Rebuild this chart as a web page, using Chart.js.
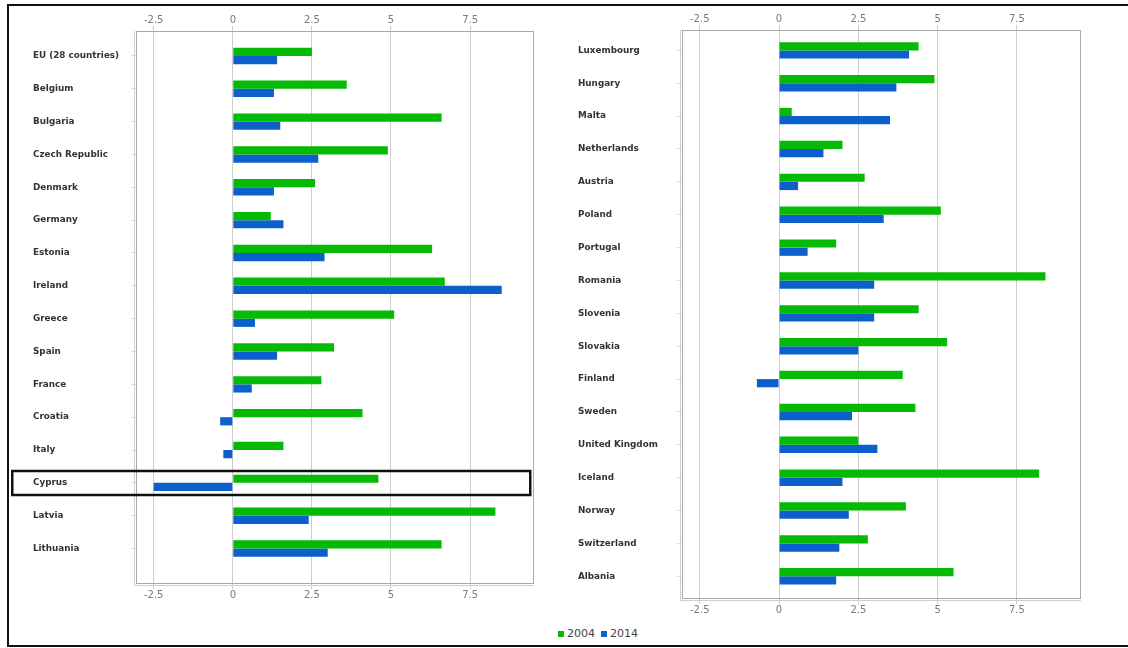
<!DOCTYPE html>
<html>
<head>
<meta charset="utf-8">
<script src="https://cdn.jsdelivr.net/npm/chart.js@4/dist/chart.umd.min.js"></script>
<style>
  html, body { margin: 0; padding: 0; background: #fff; width: 1128px; height: 648px; overflow: hidden; }
  #frame { position: absolute; left: 7px; top: 4px; width: 1130px; height: 643px; border: 2px solid #111; border-right: none; box-sizing: border-box; }
  .panel { position: absolute; }
  #leftPanel { left: 10px; top: 6px; width: 540px; height: 604px; }
  #rightPanel { left: 560px; top: 5px; width: 540px; height: 617px; }
  #legend { position: absolute; left: 558px; top: 627px; font: 11px "DejaVu Sans", sans-serif; color: #444; display: flex; align-items: center; white-space: nowrap; }
  .sw { display: inline-block; width: 6px; height: 6px; margin-right: 3px; }
  .item { display: flex; align-items: center; margin-right: 6px; }
</style>
</head>
<body>
<div id="frame"></div>
<div class="panel" id="leftPanel"><canvas id="leftChart"></canvas></div>
<div class="panel" id="rightPanel"><canvas id="rightChart"></canvas></div>
<div id="legend"></div>
<script>
// Growth rates, 2004 vs 2014
const seriesNames = ['2004', '2014'];
const seriesColors = ['#04ba04', '#0d60cc'];

const leftCountries = ['EU (28 countries)', 'Belgium', 'Bulgaria', 'Czech Republic', 'Denmark', 'Germany',
  'Estonia', 'Ireland', 'Greece', 'Spain', 'France', 'Croatia', 'Italy', 'Cyprus', 'Latvia', 'Lithuania'];
const left2004 = [2.5, 3.6, 6.6, 4.9, 2.6, 1.2, 6.3, 6.7, 5.1, 3.2, 2.8, 4.1, 1.6, 4.6, 8.3, 6.6];
const left2014 = [1.4, 1.3, 1.5, 2.7, 1.3, 1.6, 2.9, 8.5, 0.7, 1.4, 0.6, -0.4, -0.3, -2.5, 2.4, 3.0];

const rightCountries = ['Luxembourg', 'Hungary', 'Malta', 'Netherlands', 'Austria', 'Poland', 'Portugal',
  'Romania', 'Slovenia', 'Slovakia', 'Finland', 'Sweden', 'United Kingdom', 'Iceland', 'Norway',
  'Switzerland', 'Albania'];
const right2004 = [4.4, 4.9, 0.4, 2.0, 2.7, 5.1, 1.8, 8.4, 4.4, 5.3, 3.9, 4.3, 2.5, 8.2, 4.0, 2.8, 5.5];
const right2014 = [4.1, 3.7, 3.5, 1.4, 0.6, 3.3, 0.9, 3.0, 3.0, 2.5, -0.7, 2.3, 3.1, 2.0, 2.2, 1.9, 1.8];

const xTickValues = [-2.5, 0, 2.5, 5, 7.5];
const xTickLabels = ['-2.5', '0', '2.5', '5', '7.5'];

const highlightCountry = 'Cyprus';

// Gray plot frame around the chart area
const plotFrame = {
  id: 'plotFrame',
  afterDraw(chart) {
    const { ctx, chartArea: a } = chart;
    ctx.save();
    ctx.strokeStyle = '#a9a9a9';
    ctx.lineWidth = 1;
    ctx.strokeRect(Math.round(a.left) + 0.5, Math.round(a.top) + 0.5,
      Math.round(a.right - a.left) - 1, Math.round(a.bottom - a.top) - 1);
    ctx.strokeStyle = '#cfcfcf';
    ctx.beginPath();
    ctx.moveTo(Math.round(a.left) - 1.5, Math.round(a.top));
    ctx.lineTo(Math.round(a.left) - 1.5, Math.round(a.bottom) + 1.5);
    ctx.lineTo(Math.round(a.right), Math.round(a.bottom) + 1.5);
    ctx.stroke();
    ctx.restore();
  }
};

// Black outline around one country's row
const rowHighlight = {
  id: 'rowHighlight',
  afterDraw(chart, args, opts) {
    const idx = opts.categories.indexOf(opts.name);
    if (idx < 0) return;
    const y = chart.scales.y.getPixelForValue(idx);
    const { ctx } = chart;
    ctx.save();
    ctx.strokeStyle = '#111';
    ctx.lineWidth = 2.5;
    ctx.strokeRect(2.25, Math.round(y) - 12, chart.chartArea.right - 6, 24);
    ctx.restore();
  }
};

function xAxis(position, onArea, height) {
  return {
    type: 'linear',
    position: position,
    min: -3.06,
    max: 9.52,
    afterBuildTicks(s) { s.ticks = xTickValues.map(v => ({ value: v })); },
    ticks: {
      callback: (v, i) => xTickLabels[i],
      color: '#7a7a7a',
      font: { family: 'DejaVu Sans', size: 10 },
      padding: 0,
      autoSkip: false,
      maxRotation: 0
    },
    grid: { color: '#cdcdcd', tickColor: '#cdcdcd', lineWidth: 1, drawOnChartArea: onArea, drawTicks: true, tickLength: 5 },
    border: { display: false },
    afterFit(s) { s.height = height; }
  };
}

function makeChart(canvasId, categories, v2004, v2014, cfg) {
  const datasets = [v2004, v2014].map((vals, k) => ({
    label: seriesNames[k],
    data: vals.map((v, i) => ({ x: v, y: i })),
    backgroundColor: seriesColors[k],
    borderWidth: 0,
    categoryPercentage: 0.5,
    barPercentage: 1.0,
    xAxisID: 'x',
    yAxisID: 'y'
  }));
  return new Chart(document.getElementById(canvasId), {
    type: 'bar',
    data: { datasets },
    plugins: cfg.plugins,
    options: {
      indexAxis: 'y',
      responsive: true,
      maintainAspectRatio: false,
      animation: false,
      devicePixelRatio: 1,
      layout: { padding: cfg.padding },
      plugins: {
        legend: { display: false },
        tooltip: { enabled: false },
        rowHighlight: { categories: categories, name: highlightCountry }
      },
      scales: {
        x: xAxis('top', true, 25),
        x2: xAxis('bottom', false, 20),
        y: {
          type: 'linear',
          reverse: true,
          offset: false,
          min: cfg.yMin,
          max: cfg.yMax,
          afterBuildTicks(s) { s.ticks = categories.map((c, i) => ({ value: i })); },
          ticks: {
            callback: (v, i) => categories[i],
            crossAlign: 'far',
            color: '#333',
            font: { family: 'DejaVu Sans', size: 8.8, weight: 'bold' },
            autoSkip: false
          },
          grid: { offset: false, drawOnChartArea: false, drawTicks: true, tickLength: 5, color: '#dedede' },
          border: { display: false },
          afterFit(s) { s.width = cfg.yWidth; }
        }
      }
    }
  });
}

makeChart('leftChart', leftCountries, left2004, left2014, {
  padding: { left: 23, right: 16, top: 0, bottom: 6 },
  yWidth: 103,
  yMin: -0.76,
  yMax: 16.08,
  plugins: [plotFrame, rowHighlight]
});

makeChart('rightChart', rightCountries, right2004, right2014, {
  padding: { left: 18, right: 19, top: 0, bottom: 3 },
  yWidth: 104,
  yMin: -0.62,
  yMax: 16.69,
  plugins: [plotFrame]
});

// Legend
const legend = document.getElementById('legend');
seriesNames.forEach((name, k) => {
  const item = document.createElement('span');
  item.className = 'item';
  const sw = document.createElement('span');
  sw.className = 'sw';
  sw.style.background = seriesColors[k];
  item.appendChild(sw);
  item.appendChild(document.createTextNode(name));
  legend.appendChild(item);
});
</script>
</body>
</html>
